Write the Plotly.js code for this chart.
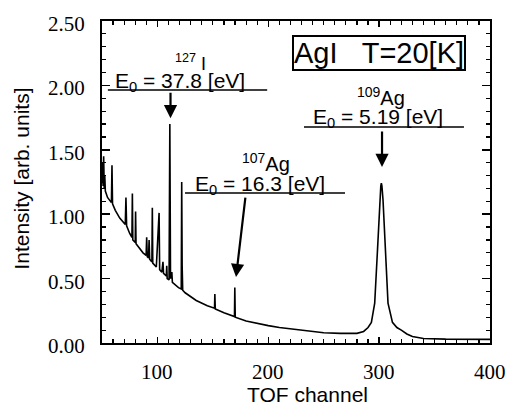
<!DOCTYPE html>
<html>
<head>
<meta charset="utf-8">
<script src="https://cdn.plot.ly/plotly-3.0.1.min.js"></script>
<style>html,body{margin:0;padding:0;background:#fff;}#chart{width:508px;height:405px;}</style>
</head>
<body>
<div id="chart"></div>
<script>
// TOF spectrum (channel, intensity)
const channels = [50, 50.5, 51, 51.5, 52, 52.5, 53, 55, 58.5, 59, 59.5, 62, 66, 71, 71.6, 72.2, 75, 77, 77.4, 77.8,
  80, 80.3, 80.7, 84, 87, 89.8, 90.3, 90.8, 92, 92.5, 93, 95, 95.4, 95.8, 99, 101.5, 102, 104, 105, 105.5,
  108, 108.4, 108.8, 110.5, 111.2, 111.8, 113, 113.5, 116, 119, 121.5, 121.9, 122.3, 122.8, 125, 128, 135, 145,
  151.5, 151.8, 152.2, 160, 169.5, 169.8, 170.2, 180, 190, 200, 210, 220, 235, 250, 265, 280, 286, 290, 293,
  296, 298.5, 300.5, 301.5, 302, 302.5, 303.5, 306, 308, 312, 316, 320, 325, 330, 340, 360, 380, 400];
const intensity = [1.24, 1.40, 1.22, 1.45, 1.20, 1.30, 1.18, 1.13, 1.09, 1.38, 1.08, 1.03, 0.97, 0.92, 1.13, 0.91, 0.85, 0.82, 1.16, 0.80,
  0.78, 1.02, 0.77, 0.73, 0.70, 0.68, 0.82, 0.67, 0.66, 0.80, 0.65, 0.63, 1.05, 0.62, 0.59, 1.01, 0.57, 0.55, 0.63, 0.54,
  0.52, 0.60, 0.50, 0.49, 1.70, 0.50, 0.55, 0.47, 0.45, 0.43, 0.42, 1.25, 0.60, 0.41, 0.39, 0.37, 0.33, 0.29,
  0.27, 0.38, 0.265, 0.235, 0.205, 0.43, 0.20, 0.17, 0.15, 0.135, 0.12, 0.11, 0.095, 0.08, 0.075, 0.075, 0.09, 0.12, 0.16,
  0.31, 0.72, 1.11, 1.22, 1.24, 1.22, 1.11, 0.72, 0.31, 0.16, 0.12, 0.10, 0.07, 0.05, 0.035, 0.03, 0.028, 0.028];

const xRange = [50, 400];
const yRange = [0, 2.5];
const xTickVals = [100, 200, 300, 400];
const yTickVals = [0, 0.5, 1.0, 1.5, 2.0, 2.5];
const xTitle = "TOF channel";
const yTitle = "Intensity [arb. units]";
const boxLabel = "AgI&nbsp;&nbsp;&nbsp;T=20[K]";
const peakLabels = ["<sup>127</sup> I", "<sup>107</sup>Ag", "<sup>109</sup>Ag"];
const energyLabels = ["E<sub>0</sub> = 37.8 [eV]", "E<sub>0</sub> = 16.3 [eV]", "E<sub>0</sub> = 5.19 [eV]"];

const sans = "Liberation Sans, Arial, sans-serif";
const serif = "Liberation Serif, Times New Roman, serif";

const trace = {
  x: channels, y: intensity, type: "scatter", mode: "lines",
  line: {color: "#000", width: 1.6}, hoverinfo: "skip"
};

const annFont = {family: sans, size: 21, color: "#000"};
const supFont = {family: sans, size: 20, color: "#000"};
const titleFont = {family: sans, size: 21, color: "#000"};
const tickFont = {family: serif, size: 21, color: "#000"};

const annotations = [
  {x: 129.5, y: 2.18, xref: "x", yref: "y", text: peakLabels[0], showarrow: false, font: {family: sans, size: 18, color: "#000"}},
  {x: 120.4, y: 2.03, xref: "x", yref: "y", text: energyLabels[0], showarrow: false, font: annFont},
  {x: 198, y: 1.40, xref: "x", yref: "y", text: peakLabels[1], showarrow: false, font: supFont},
  {x: 192.5, y: 1.23, xref: "x", yref: "y", text: energyLabels[1], showarrow: false, font: annFont},
  {x: 302.1, y: 1.91, xref: "x", yref: "y", text: peakLabels[2], showarrow: false, font: supFont},
  {x: 299, y: 1.745, xref: "x", yref: "y", text: energyLabels[2], showarrow: false, font: annFont},
  {x: 299.9, y: 2.255, xref: "x", yref: "y", text: boxLabel, showarrow: false,
   font: {family: sans, size: 29, color: "#000"}, bordercolor: "#000", borderwidth: 2, borderpad: 0},
  {x: 111.8, y: 1.745, ax: 111.8, ay: 1.955, xref: "x", yref: "y", axref: "x", ayref: "y", text: "",
   showarrow: true, arrowhead: 2, arrowsize: 1.2, arrowwidth: 2.2, arrowcolor: "#000"},
  {x: 170.9, y: 0.512, ax: 179.5, ay: 1.14, xref: "x", yref: "y", axref: "x", ayref: "y", text: "",
   showarrow: true, arrowhead: 2, arrowsize: 1.2, arrowwidth: 2.2, arrowcolor: "#000"},
  {x: 302.6, y: 1.366, ax: 302.6, ay: 1.654, xref: "x", yref: "y", axref: "x", ayref: "y", text: "",
   showarrow: true, arrowhead: 2, arrowsize: 1.2, arrowwidth: 2.2, arrowcolor: "#000"},
  // axis titles
  {x: 0.53, y: -0.161, xref: "paper", yref: "paper", text: xTitle, showarrow: false, font: titleFont,
   xanchor: "center", yanchor: "middle"},
  {x: -0.2075, y: 0.512, xref: "paper", yref: "paper", text: yTitle, showarrow: false, font: titleFont,
   textangle: -90, xanchor: "center", yanchor: "middle"}
];
// tick labels placed on the axis scales
xTickVals.forEach(function(v){
  annotations.push({x: v, y: -0.09, xref: "x", yref: "paper", text: String(v), showarrow: false,
    font: tickFont, xanchor: "center", yanchor: "middle"});
});
yTickVals.forEach(function(v){
  annotations.push({x: -0.0387, y: v, xref: "paper", yref: "y", text: v.toFixed(2), showarrow: false,
    font: tickFont, xanchor: "right", yanchor: "middle", yshift: -3});
});

const shapes = [
  {type: "line", xref: "x", yref: "y", x0: 55.3, x1: 199, y0: 1.964, y1: 1.964, line: {color: "#000", width: 1.5}},
  {type: "line", xref: "x", yref: "y", x0: 124.9, x1: 269.2, y0: 1.165, y1: 1.165, line: {color: "#000", width: 1.5}},
  {type: "line", xref: "x", yref: "y", x0: 232.2, x1: 376.5, y0: 1.677, y1: 1.677, line: {color: "#000", width: 1.5}}
];

const layout = {
  width: 508, height: 405,
  margin: {l: 102, r: 18, t: 21, b: 62, pad: 0},
  paper_bgcolor: "#fff", plot_bgcolor: "#fff",
  showlegend: false,
  xaxis: {
    range: xRange, tickmode: "linear", tick0: 0, dtick: 100,
    ticks: "inside", ticklen: 6, tickwidth: 1.5, tickcolor: "#000",
    minor: {tickmode: "linear", tick0: 0, dtick: 10, ticks: "inside", ticklen: 4, tickwidth: 1.2, tickcolor: "#000", showgrid: false},
    showline: true, linecolor: "#000", linewidth: 2, mirror: "allticks",
    showgrid: false, zeroline: false, showticklabels: false
  },
  yaxis: {
    range: yRange, tickmode: "linear", tick0: 0, dtick: 0.5,
    ticks: "inside", ticklen: 8, tickwidth: 1.5, tickcolor: "#000",
    minor: {tickmode: "linear", tick0: 0, dtick: 0.1, ticks: "inside", ticklen: 4, tickwidth: 1.2, tickcolor: "#000", showgrid: false},
    showline: true, linecolor: "#000", linewidth: 2, mirror: "allticks",
    showgrid: false, zeroline: false, showticklabels: false
  },
  annotations: annotations,
  shapes: shapes
};

Plotly.newPlot("chart", [trace], layout, {staticPlot: true, displayModeBar: false});
</script>
</body>
</html>
